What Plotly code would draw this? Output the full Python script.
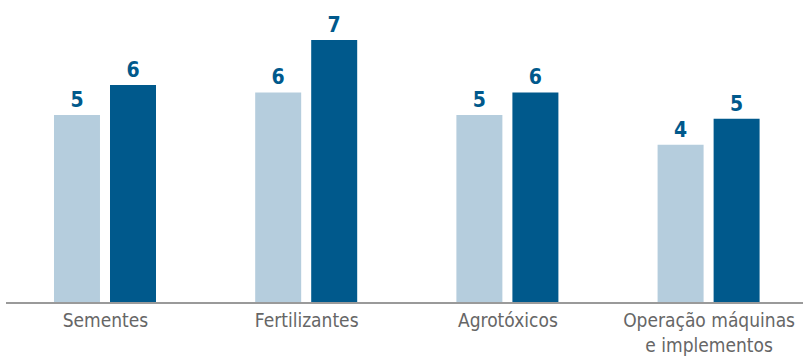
import plotly.graph_objects as go

categories = ["Sementes", "Fertilizantes", "Agrotóxicos", "Operação máquinas<br>e implementos"]
series_a = [5.0, 5.6, 5.0, 4.2]   # light bars
series_b = [5.8, 7.0, 5.6, 4.9]   # dark bars

LIGHT = "#B5CDDD"
DARK = "#00598C"
FONT = "DejaVu Sans Condensed, Roboto, sans-serif"

x_idx = list(range(len(categories)))
bw = 0.2286

fig = go.Figure()
fig.add_trace(go.Bar(
    x=x_idx, y=series_a, width=bw, offset=-0.256,
    marker=dict(color=LIGHT, line=dict(width=0)),
    text=series_a, texttemplate="%{y:.0f}", textposition="outside",
    textfont=dict(family=FONT, size=21, color=DARK, weight="bold"),
    cliponaxis=False, showlegend=False,
))
fig.add_trace(go.Bar(
    x=x_idx, y=series_b, width=bw, offset=0.0224,
    marker=dict(color=DARK, line=dict(width=0)),
    text=series_b, texttemplate="%{y:.0f}", textposition="outside",
    textfont=dict(family=FONT, size=21, color=DARK, weight="bold"),
    cliponaxis=False, showlegend=False,
))

fig.update_layout(
    width=803, height=356,
    margin=dict(l=6, r=0, t=0, b=54),
    plot_bgcolor="white", paper_bgcolor="white",
    barmode="overlay",
    font=dict(family=FONT),
    xaxis=dict(
        range=[-0.4945, 3.4667],
        tickmode="array", tickvals=x_idx, ticktext=categories,
        showgrid=False, zeroline=False, automargin=False,
        showline=True, linecolor="#9A9A9A", linewidth=2,
        ticks="", ticklabeloverflow="allow",
        tickfont=dict(family=FONT, size=19, color="#666666", weight=300),
    ),
    yaxis=dict(
        range=[0, 8.07], visible=False, showgrid=False, zeroline=False,
        automargin=False,
    ),
)

fig.write_html("out.html")
